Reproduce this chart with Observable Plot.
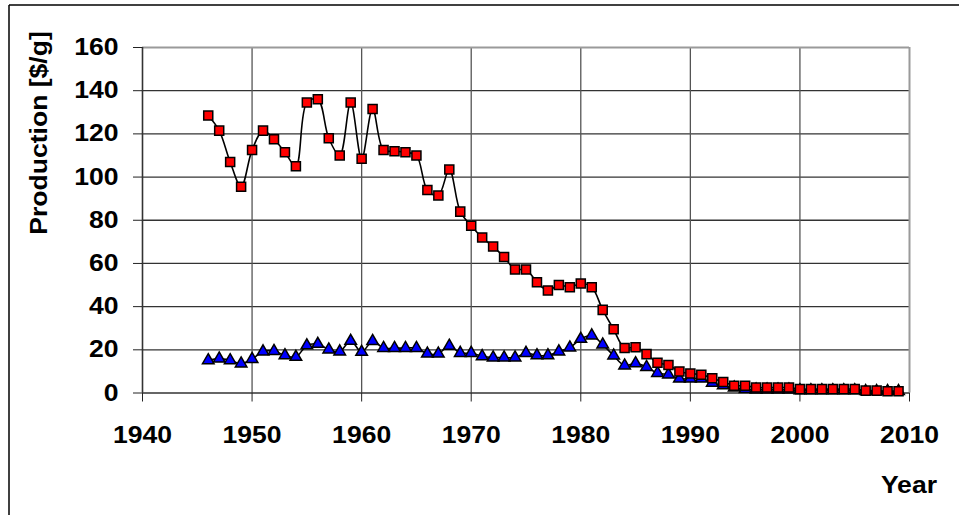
<!DOCTYPE html>
<html>
<head>
<meta charset="utf-8">
<script src="https://cdn.jsdelivr.net/npm/d3@7"></script>
<script src="https://cdn.jsdelivr.net/npm/@observablehq/plot@0.6"></script>
<style>
  html, body { margin: 0; padding: 0; background: #fff; }
  #chart { width: 959px; height: 515px; overflow: hidden; }
</style>
</head>
<body>
<div id="chart"></div>
<script>
// ---- data ----
const years = [1946,1947,1948,1949,1950,1951,1952,1953,1954,1955,1956,1957,1958,1959,
  1960,1961,1962,1963,1964,1965,1966,1967,1968,1969,1970,1971,1972,1973,1974,1975,
  1976,1977,1978,1979,1980,1981,1982,1983,1984,1985,1986,1987,1988,1989,1990,1991,
  1992,1993,1994,1995,1996,1997,1998,1999,2000,2001,2002,2003,2004,2005,2006,2007,2008,2009];

const redSeries = [128.5,121.5,107,95.5,112.5,121.5,117.5,111.5,105,134.5,136,118,110,134.5,
  108.5,131.5,112.5,112,111.5,110,94,91.5,103.5,84,77.5,72,67.8,63,57.2,57.2,
  51.3,47.5,50,49,50.7,49,38.5,29.5,20.8,21.2,18,14,13,10,9,8.5,
  6.8,5.1,3.4,3.4,2.5,2.5,2.5,2.5,1.8,1.8,1.8,1.8,1.8,1.8,1.1,1.1,0.8,0.8];

const blueSeries = [15.1,15.9,15.1,13.6,15.7,19.2,19.4,17.4,16.7,22,22.7,20.1,19.2,24.1,
  19,24,20.8,20.8,20.8,20.8,18.2,18.2,21.8,18.5,18.5,17,16.4,16.4,16.4,18.5,
  17.4,17.4,19.2,21,25,26.6,22.4,17.3,12.7,13.7,12,9.2,8.5,6.6,6.6,6.6,
  4.7,3.5,2.5,1.8,1.5,1.5,1.5,1.5,1.2,1.2,1.2,1.2,1.2,1.2,0.8,0.8,0.8,0.8];

const xTicks = [1940,1950,1960,1970,1980,1990,2000,2010];
const yTicks = [0,20,40,60,80,100,120,140,160];
const xGrid = [1950,1960,1970,1980,1990,2000];
const yGrid = [20,40,60,80,100,120,140];

const yTitle = "Production [$/g]";
const xTitle = "Year";

// ---- build ----
const red = years.map((yr, i) => ({year: yr, value: redSeries[i]}));
const blue = years.map((yr, i) => ({year: yr, value: blueSeries[i]}));

const FONT = "'Liberation Sans', Arial, Helvetica, sans-serif";
const FS = 23.5;
const SX = 1.13;

const chart = Plot.plot({
  width: 959,
  height: 515,
  marginLeft: 142,
  marginRight: 50,
  marginTop: 47,
  marginBottom: 122.5,
  x: {domain: [1940, 2010]},
  y: {domain: [0, 160]},
  style: {fontFamily: FONT, fontWeight: "bold", fontSize: FS + "px", color: "#000", background: "#fff", overflow: "visible"},
  marks: [
    Plot.ruleY(yGrid, {stroke: "#333", strokeWidth: 1.3}),
    Plot.ruleX(xGrid, {stroke: "#555", strokeWidth: 1.3}),
    Plot.ruleY([160], {stroke: "#9a9a9a", strokeWidth: 2}),
    Plot.ruleX([2010], {stroke: "#9a9a9a", strokeWidth: 2}),
    Plot.ruleY([0], {stroke: "#333", strokeWidth: 1.6}),
    Plot.ruleX([1940], {stroke: "#333", strokeWidth: 1.6}),
    Plot.axisY({ticks: yTicks, tickSize: 9, tickPadding: 15, tickFormat: d => String(d), label: null,
      fontSize: FS, fontWeight: "bold", stroke: "#222"}),
    Plot.axisX({ticks: xTicks, tickSize: 9, tickPadding: 24.5, tickFormat: d => String(d), label: null,
      fontSize: FS, fontWeight: "bold", stroke: "#222"}),
    Plot.line(blue, {x: "year", y: "value", curve: "catmull-rom", stroke: "#000", strokeWidth: 1.6}),
    Plot.dot(blue, {x: "year", y: "value", symbol: "triangle", r: 4.3, fill: "#0000ff", stroke: "#000", strokeWidth: 1.5}),
    Plot.line(red, {x: "year", y: "value", curve: "catmull-rom", stroke: "#000", strokeWidth: 1.6}),
    Plot.dot(red, {x: "year", y: "value", symbol: "square", r: 5.1, fill: "#ff0000", stroke: "#000", strokeWidth: 1.5})
  ]
});

const svg = d3.select(chart);
// outer frame (left and top edges visible)
svg.append("line").attr("x1", 9).attr("y1", 5).attr("x2", 959).attr("y2", 5)
  .attr("stroke", "#000").attr("stroke-width", 1.5);
svg.append("line").attr("x1", 9).attr("y1", 5).attr("x2", 9).attr("y2", 515)
  .attr("stroke", "#000").attr("stroke-width", 1.5);

svg.append("text")
  .attr("transform", `translate(47,133) rotate(-90)`)
  .attr("text-anchor", "middle")
  .attr("font-family", FONT).attr("font-weight", "bold").attr("font-size", FS)
  .attr("fill", "#000")
  .text(yTitle);

svg.append("text")
  .attr("transform", `translate(937,493)`)
  .attr("text-anchor", "end")
  .attr("font-family", FONT).attr("font-weight", "bold").attr("font-size", FS)
  .attr("fill", "#000")
  .text(xTitle);

document.getElementById("chart").appendChild(chart);

// widen glyphs horizontally (reference lettering is wider than Liberation Sans)
svg.selectAll("text").each(function() {
  if (this.querySelector("tspan")) return;
  const w = this.getComputedTextLength();
  if (w > 0) {
    this.setAttribute("textLength", (w * SX).toFixed(2));
    this.setAttribute("lengthAdjust", "spacingAndGlyphs");
  }
});
</script>
</body>
</html>
